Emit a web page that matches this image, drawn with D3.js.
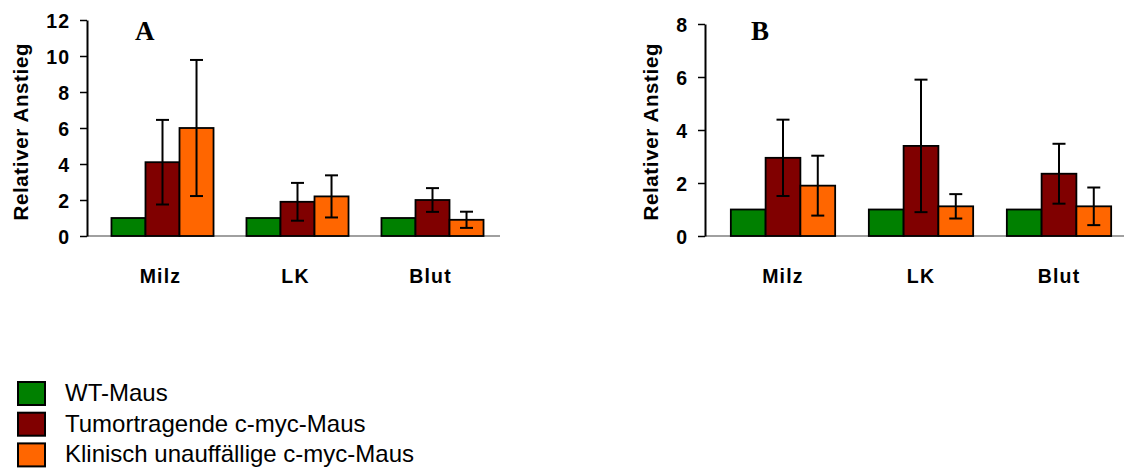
<!DOCTYPE html>
<html>
<head>
<meta charset="utf-8">
<script src="https://cdn.jsdelivr.net/npm/d3@7"></script>
<style>
  body { margin: 0; background: #fff; }
  svg { display: block; font-family: Arial, "Liberation Sans", sans-serif; }
</style>
</head>
<body>
<svg id="chart" width="1124" height="470"></svg>
<script>
// data
const categories = ['Milz', 'LK', 'Blut']
const series = ['WT-Maus', 'Tumortragende c-myc-Maus', 'Klinisch unauffällige c-myc-Maus']
const colors = ['#008000', '#800000', '#ff6600']

// values per category: [WT, Tumor, Klinisch]
const valuesA = [[1, 4.1, 6.0], [1, 1.9, 2.2], [1, 2.0, 0.9]]
const errorsA = [[0, 2.35, 3.78], [0, 1.05, 1.17], [0, 0.66, 0.45]]
const ticksA = [0, 2, 4, 6, 8, 10, 12]

const valuesB = [[1, 2.95, 1.9], [1, 3.4, 1.12], [1, 2.35, 1.12]]
const errorsB = [[0, 1.44, 1.13], [0, 2.5, 0.46], [0, 1.13, 0.71]]
const ticksB = [0, 2, 4, 6, 8]

const svg = d3.select('#chart')

function panel(opt) {
  const g = svg.append('g')
  let y = d3.scaleLinear().domain([0, d3.max(opt.ticks)]).range([236, opt.top])
  let x = d3.scaleBand().domain(categories)
    .range([opt.x0, opt.x1]).paddingInner(0.244).paddingOuter(0.122)
  let xs = d3.scaleBand().domain(d3.range(series.length)).range([0, x.bandwidth()])

  // x axis (gray baseline)
  g.append('line')
    .attr('x1', opt.axisX).attr('x2', opt.lineEnd)
    .attr('y1', y(0)).attr('y2', y(0))
    .attr('stroke', '#a0a0a0').attr('stroke-width', 2)

  // bars
  const grp = g.selectAll('.grp').data(categories).join('g')
    .attr('transform', d => `translate(${x(d)},0)`)
  grp.selectAll('rect')
    .data((d, i) => opt.values[i].map((v, j) => ({v, j})))
    .join('rect')
      .attr('x', d => xs(d.j))
      .attr('width', xs.bandwidth())
      .attr('y', d => y(d.v))
      .attr('height', d => y(0) - y(d.v))
      .attr('fill', d => colors[d.j])
      .attr('stroke', '#000').attr('stroke-width', 1.8)

  // error bars
  const err = grp.selectAll('.err')
    .data((d, i) => opt.values[i].map((v, j) => ({v, j, e: opt.errors[i][j]})).filter(d => d.e > 0))
    .join('g').attr('class', 'err')
    .attr('transform', d => `translate(${xs(d.j) + xs.bandwidth() / 2},0)`)
  err.append('line')
    .attr('y1', d => y(d.v - d.e)).attr('y2', d => y(d.v + d.e))
    .attr('stroke', '#000').attr('stroke-width', 2)
  err.selectAll('.cap').data(d => [d.v - d.e, d.v + d.e]).join('line')
    .attr('x1', -6.5).attr('x2', 6.5)
    .attr('y1', d => y(d)).attr('y2', d => y(d))
    .attr('stroke', '#000').attr('stroke-width', 2)

  // y axis
  g.append('g')
    .attr('transform', `translate(${opt.axisX},0)`)
    .call(d3.axisLeft(y).tickValues(opt.ticks).tickSize(7).tickSizeOuter(0).tickPadding(10))
    .call(g => g.select('.domain').attr('stroke', '#000').attr('stroke-width', 2))
    .call(g => g.selectAll('.tick line').attr('stroke', '#000').attr('stroke-width', 1.5))
    .call(g => g.selectAll('.tick text')
      .attr('fill', '#000')
      .attr('font-family', 'Arial, "Liberation Sans", sans-serif')
      .attr('font-size', 19.5).attr('font-weight', 'bold')
      .attr('letter-spacing', 1)
      .attr('dy', '0.36em'))

  // category labels
  g.selectAll('.cat').data(categories).join('text')
    .attr('x', d => x(d) + x.bandwidth() / 2 + opt.labelShift)
    .attr('y', 283)
    .attr('text-anchor', 'middle')
    .attr('font-size', 19.5).attr('font-weight', 'bold')
    .attr('letter-spacing', 1.2)
    .text(d => d)

  // y title
  g.append('text')
    .attr('transform', `translate(${opt.titleX},132) rotate(-90)`)
    .attr('text-anchor', 'middle')
    .attr('font-size', 20.5).attr('font-weight', 'bold')
    .attr('textLength', 177).attr('lengthAdjust', 'spacing')
    .text('Relativer Anstieg')

  // panel letter
  g.append('text')
    .attr('x', opt.letterX).attr('y', 40)
    .attr('font-family', '"Times New Roman", "Liberation Serif", serif')
    .attr('font-size', 27).attr('font-weight', 'bold')
    .text(opt.letter)
}

panel({values: valuesA, errors: errorsA, ticks: ticksA, top: 20,
  axisX: 87, x0: 95, x1: 500, lineEnd: 500, titleX: 28, letterX: 135, letter: 'A', labelShift: -2})
panel({values: valuesB, errors: errorsB, ticks: ticksB, top: 24,
  axisX: 705, x0: 714, x1: 1128, lineEnd: 1124, titleX: 658, letterX: 751, letter: 'B', labelShift: 0})

// legend
const leg = svg.append('g')
const row = leg.selectAll('g').data(series).join('g')
  .attr('transform', (d, i) => `translate(18,${382 + i * 30.7})`)
row.append('rect')
  .attr('width', 27).attr('height', 23)
  .attr('fill', (d, i) => colors[i])
  .attr('stroke', '#000').attr('stroke-width', 2)
row.append('text')
  .attr('x', 47).attr('y', 19)
  .attr('font-size', 24)
  .attr('fill', '#000')
  .text(d => d)
</script>
</body>
</html>
